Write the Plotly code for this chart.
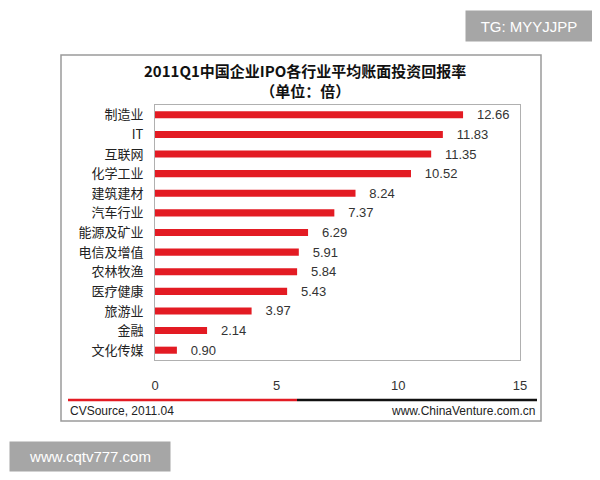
import plotly.graph_objects as go

categories = ["制造业", "IT", "互联网", "化学工业", "建筑建材", "汽车行业", "能源及矿业",
              "电信及增值", "农林牧渔", "医疗健康", "旅游业", "金融", "文化传媒"]
values = [12.66, 11.83, 11.35, 10.52, 8.24, 7.37, 6.29, 5.91, 5.84, 5.43, 3.97, 2.14, 0.90]
value_labels = ["12.66", "11.83", "11.35", "10.52", "8.24", "7.37", "6.29", "5.91", "5.84", "5.43", "3.97", "2.14", "0.90"]
tick_vals = [0, 5, 10, 15]
title_text = "2011Q1中国企业IPO各行业平均账面投资回报率"
subtitle_text = "（单位：倍）"
source_left = "CVSource, 2011.04"
source_right = "www.ChinaVenture.com.cn"

# page offset (default body margin of the html page)
OFF = 8
W, H = 600, 480
L, R, T, B = 155 - OFF, 80 + OFF, 105 - OFF, 120 + OFF
PW, PH = W - L - R, H - T - B

def px(x):
    return (x - OFF - L) / PW

def py(y):
    return (H - B - (y - OFF)) / PH

FONT = "Noto Sans CJK SC"

fig = go.Figure(go.Bar(
    x=values, y=categories, orientation="h",
    marker=dict(color="#e31b23", line=dict(width=0)),
    width=0.36,
    text=value_labels, texttemplate="   %{text}", textposition="outside",
    cliponaxis=False, constraintext="none",
    textfont=dict(family="Liberation Sans, Arial", size=13, color="#333333"),
))

shapes = [
    dict(type="rect", xref="paper", yref="paper", x0=px(61), x1=px(541), y0=py(421), y1=py(55),
         line=dict(color="#9a9a9a", width=1.5), fillcolor="rgba(0,0,0,0)", layer="below"),
    dict(type="line", xref="paper", yref="paper", x0=px(68), x1=px(297), y0=py(400), y1=py(400),
         line=dict(color="#e31b23", width=2.5)),
    dict(type="line", xref="paper", yref="paper", x0=px(297), x1=px(537), y0=py(400), y1=py(400),
         line=dict(color="#111111", width=2.5)),
]

annotations = [
    dict(text="<b>" + title_text + "</b><br><b>" + subtitle_text + "</b>", xref="paper", yref="paper",
         x=px(305), y=py(81), showarrow=False, font=dict(family=FONT, size=15, color="#111111"),
         xanchor="center", yanchor="middle", align="center"),
    dict(text=source_left, xref="paper", yref="paper", x=px(68), y=py(411),
         showarrow=False, font=dict(family="Liberation Sans, Arial", size=12, color="#222222"),
         xanchor="left", yanchor="middle"),
    dict(text=source_right, xref="paper", yref="paper", x=px(537), y=py(411),
         showarrow=False, font=dict(family="Liberation Sans, Arial", size=12, color="#222222"),
         xanchor="right", yanchor="middle"),
    dict(text="TG: MYYJJPP", xref="paper", yref="paper", x=px(529), y=py(26),
         showarrow=False, font=dict(family="Liberation Sans, Arial", size=15, color="#ffffff"),
         xanchor="center", yanchor="middle", bgcolor="#a6a6a6", borderpad=6, width=114, height=18),
    dict(text="www.cqtv777.com", xref="paper", yref="paper", x=px(90), y=py(456),
         showarrow=False, font=dict(family="Liberation Sans, Arial", size=15, color="#ffffff"),
         xanchor="center", yanchor="middle", bgcolor="#a6a6a6", borderpad=6, width=148, height=17),
]

fig.update_layout(
    width=W, height=H,
    margin=dict(l=L, r=R, t=T, b=B, autoexpand=False),
    paper_bgcolor="white", plot_bgcolor="white",
    showlegend=False,
    shapes=shapes, annotations=annotations,
    xaxis=dict(range=[0, 15], tickvals=tick_vals, showgrid=False, zeroline=False,
               showline=True, mirror=True, linecolor="#b0b0b0", linewidth=1,
               ticks="", ticklabelstandoff=13,
               tickfont=dict(family="Liberation Sans, Arial", size=13, color="#333333")),
    yaxis=dict(autorange=False, range=[12.5, -0.5], showgrid=False, zeroline=False,
               showline=True, mirror=True, linecolor="#b0b0b0", linewidth=1,
               ticks="", ticklabelstandoff=8,
               tickfont=dict(family=FONT, size=13, color="#222222")),
    font=dict(family=FONT),
)

fig.write_html("out.html")
